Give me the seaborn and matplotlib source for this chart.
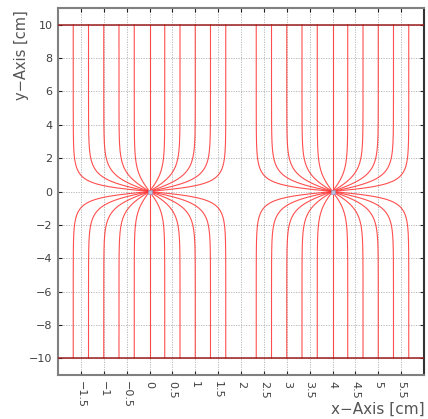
import numpy as np
import pandas as pd
import matplotlib
matplotlib.use("Agg")
import matplotlib.pyplot as plt
import seaborn as sns

# ---- data ----
charge_x = [0.0, 4.0]                      # positions of the two charges (y = 0)
charge_y = [0.0, 0.0]
end_offsets = [-1.667, -1.333, -1.0, -0.667, -0.333, 0.0,
               0.333, 0.667, 1.0, 1.333, 1.667]   # where lines hit the plates, rel. to charge
plate_y = [10.0, -10.0]                    # plate positions
half_width = 2.0                           # half width of each field cell
x_ticks = [-1.5, -1, -0.5, 0, 0.5, 1, 1.5, 2, 2.5, 3, 3.5, 4, 4.5, 5, 5.5]
y_ticks = [-10, -8, -6, -4, -2, 0, 2, 4, 6, 8, 10]
x_limits = [-2.0, 6.0]
y_limits = [-11.0, 11.0]

# ---- build field lines (source in a channel model) ----
rows = []
lid = 0
t = np.linspace(0.0, 1.0, 400) ** 2
for cx, cy in zip(charge_x, charge_y):
    for d in end_offsets:
        for py in plate_y:
            ys = cy + (py - cy) * t
            a = half_width
            xs = cx + (2 * a / np.pi) * np.arctan(
                np.tanh(np.pi * np.abs(ys - cy) / (2 * a)) * np.tan(np.pi * d / (2 * a)))
            for xx, yy in zip(xs, ys):
                rows.append((lid, xx, yy))
            lid += 1
df = pd.DataFrame(rows, columns=["line", "x", "y"])

sns.set_style("white")
plt.rcParams["font.family"] = ["DejaVu Sans"]

fig = plt.figure(figsize=(4.28, 4.19), dpi=100)
ax = fig.add_axes([58 / 428, 1 - 375 / 419, 366 / 428, 367 / 419])

sns.lineplot(data=df, x="x", y="y", units="line", estimator=None, sort=False,
             color="#ff3030", alpha=0.85, lw=0.8, ax=ax, legend=False)

for py in plate_y:
    ax.axhline(py, color="#9b1c1c", lw=1.1, zorder=3)

ax.scatter(charge_x, charge_y, marker="s", s=12, color="#b8c0dc",
           edgecolor="#9098c8", lw=0.4, zorder=4)

ax.set_xlim(*x_limits)
ax.set_ylim(*y_limits)
ax.set_xticks(x_ticks)
ax.set_yticks(y_ticks)
ax.set_xticklabels([f"{v:g}".replace("-", "\u2212") for v in x_ticks],
                   rotation=-90, fontsize=8, color="#404040")
ax.set_yticklabels([f"{v:g}".replace("-", "\u2212") for v in y_ticks],
                   fontsize=8, color="#404040")
ax.tick_params(direction="in", length=3, width=0.8, color="#222222",
               top=True, right=True, bottom=True, left=True, pad=4)
ax.grid(True, color="#b0b0b0", linestyle=(0, (1.5, 1.5)), lw=0.6)
for s in ["left", "bottom", "top"]:
    ax.spines[s].set_color("#808080")
    ax.spines[s].set_linewidth(1.5)
ax.spines["right"].set_color("#333333")
ax.spines["right"].set_linewidth(1.5)

ax.set_xlabel("x\u2212Axis [cm]", fontsize=11, color="#555555", loc="right")
ax.xaxis.set_label_coords(1.003, -0.072)
ax.set_ylabel("y\u2212Axis [cm]", fontsize=10.5, color="#555555", loc="top")
ax.yaxis.set_label_coords(-0.079, 0.995)

fig.savefig("out.png", dpi=100)
